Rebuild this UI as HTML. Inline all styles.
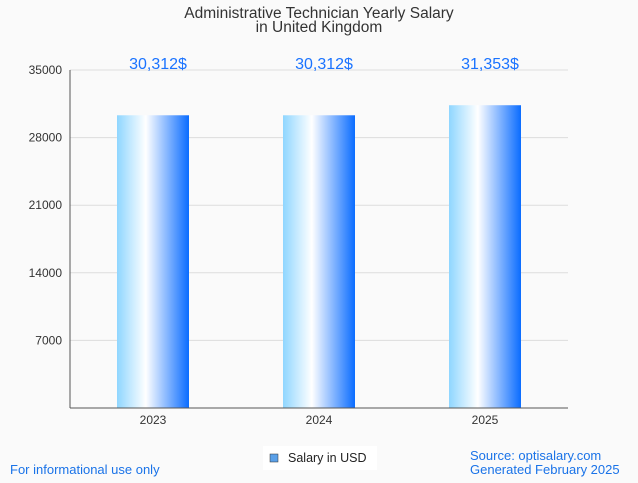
<!DOCTYPE html>
<html><head><meta charset="utf-8"><style>
body{margin:0;background:#fafafa;font-family:"Liberation Sans",sans-serif;}
svg text{font-family:"Liberation Sans",sans-serif;}
</style></head><body>
<svg id="c" width="638" height="478">
<defs><linearGradient id="g" x1="0" x2="1" y1="0" y2="0">
<stop offset="0" stop-color="#8fd6ff"/><stop offset="0.4" stop-color="#ffffff"/><stop offset="1" stop-color="#0a6cff"/>
</linearGradient></defs>
<rect width="638" height="478" fill="#fafafa"/>
<text x="319" y="18" text-anchor="middle" font-size="15.5" fill="#333">Administrative Technician Yearly Salary</text>
<text x="319" y="32" text-anchor="middle" font-size="15.5" fill="#333">in United Kingdom</text>
<g id="grid"></g><g id="bars"></g>
<line x1="70" y1="70" x2="70" y2="408" stroke="#555"/>
<line x1="70" y1="408" x2="568" y2="408" stroke="#555"/>
<rect x="263" y="446" width="114" height="24" fill="#fff"/>
<rect x="270" y="454" width="8" height="8" fill="#5aa0e8" stroke="#333" stroke-width="0.5"/>
<text x="288" y="462" font-size="12.5" fill="#222">Salary in USD</text>
<text x="10" y="474" font-size="13" fill="#1a73e8">For informational use only</text>
<text x="470" y="460" font-size="13" fill="#1a73e8">Source: optisalary.com</text>
<text x="470" y="474" font-size="13" fill="#1a73e8">Generated February 2025</text>
</svg>
<script>
const categories=["2023","2024","2025"];
const values=[30312,30312,31353];
const labels=["30,312$","30,312$","31,353$"];
const ticks=[7000,14000,21000,28000,35000];
const ns="http://www.w3.org/2000/svg";
const y=v=>408-v/35000*338, x=i=>70+166*i+83;
function mk(t,a,p,txt){const e=document.createElementNS(ns,t);for(const k in a)e.setAttribute(k,a[k]);if(txt)e.textContent=txt;p.appendChild(e);return e;}
const G=document.getElementById('grid'),B=document.getElementById('bars');
ticks.forEach(t=>{
 const l=mk('line',{x1:70,x2:568,y1:y(t),y2:y(t),stroke:'#ddd'},G);
 
 
 const tx=mk('text',{x:62,y:y(t)+4,'text-anchor':'end','font-size':12,fill:'#333'},G,String(t));
 
 
});
categories.forEach((c,i)=>{
 const r=mk('rect',{x:x(i)-36,y:y(values[i]),width:72,height:408-y(values[i]),fill:'url(#g)'},B);
 
 
 const t=mk('text',{x:x(i),y:424,'text-anchor':'middle','font-size':12,fill:'#333'},B,c);
 
 
 const v=mk('text',{x:x(i)+5,y:69,'text-anchor':'middle','font-size':16,fill:'#1a73ff'},B,labels[i]);
 
 
});
</script>
</body></html>
